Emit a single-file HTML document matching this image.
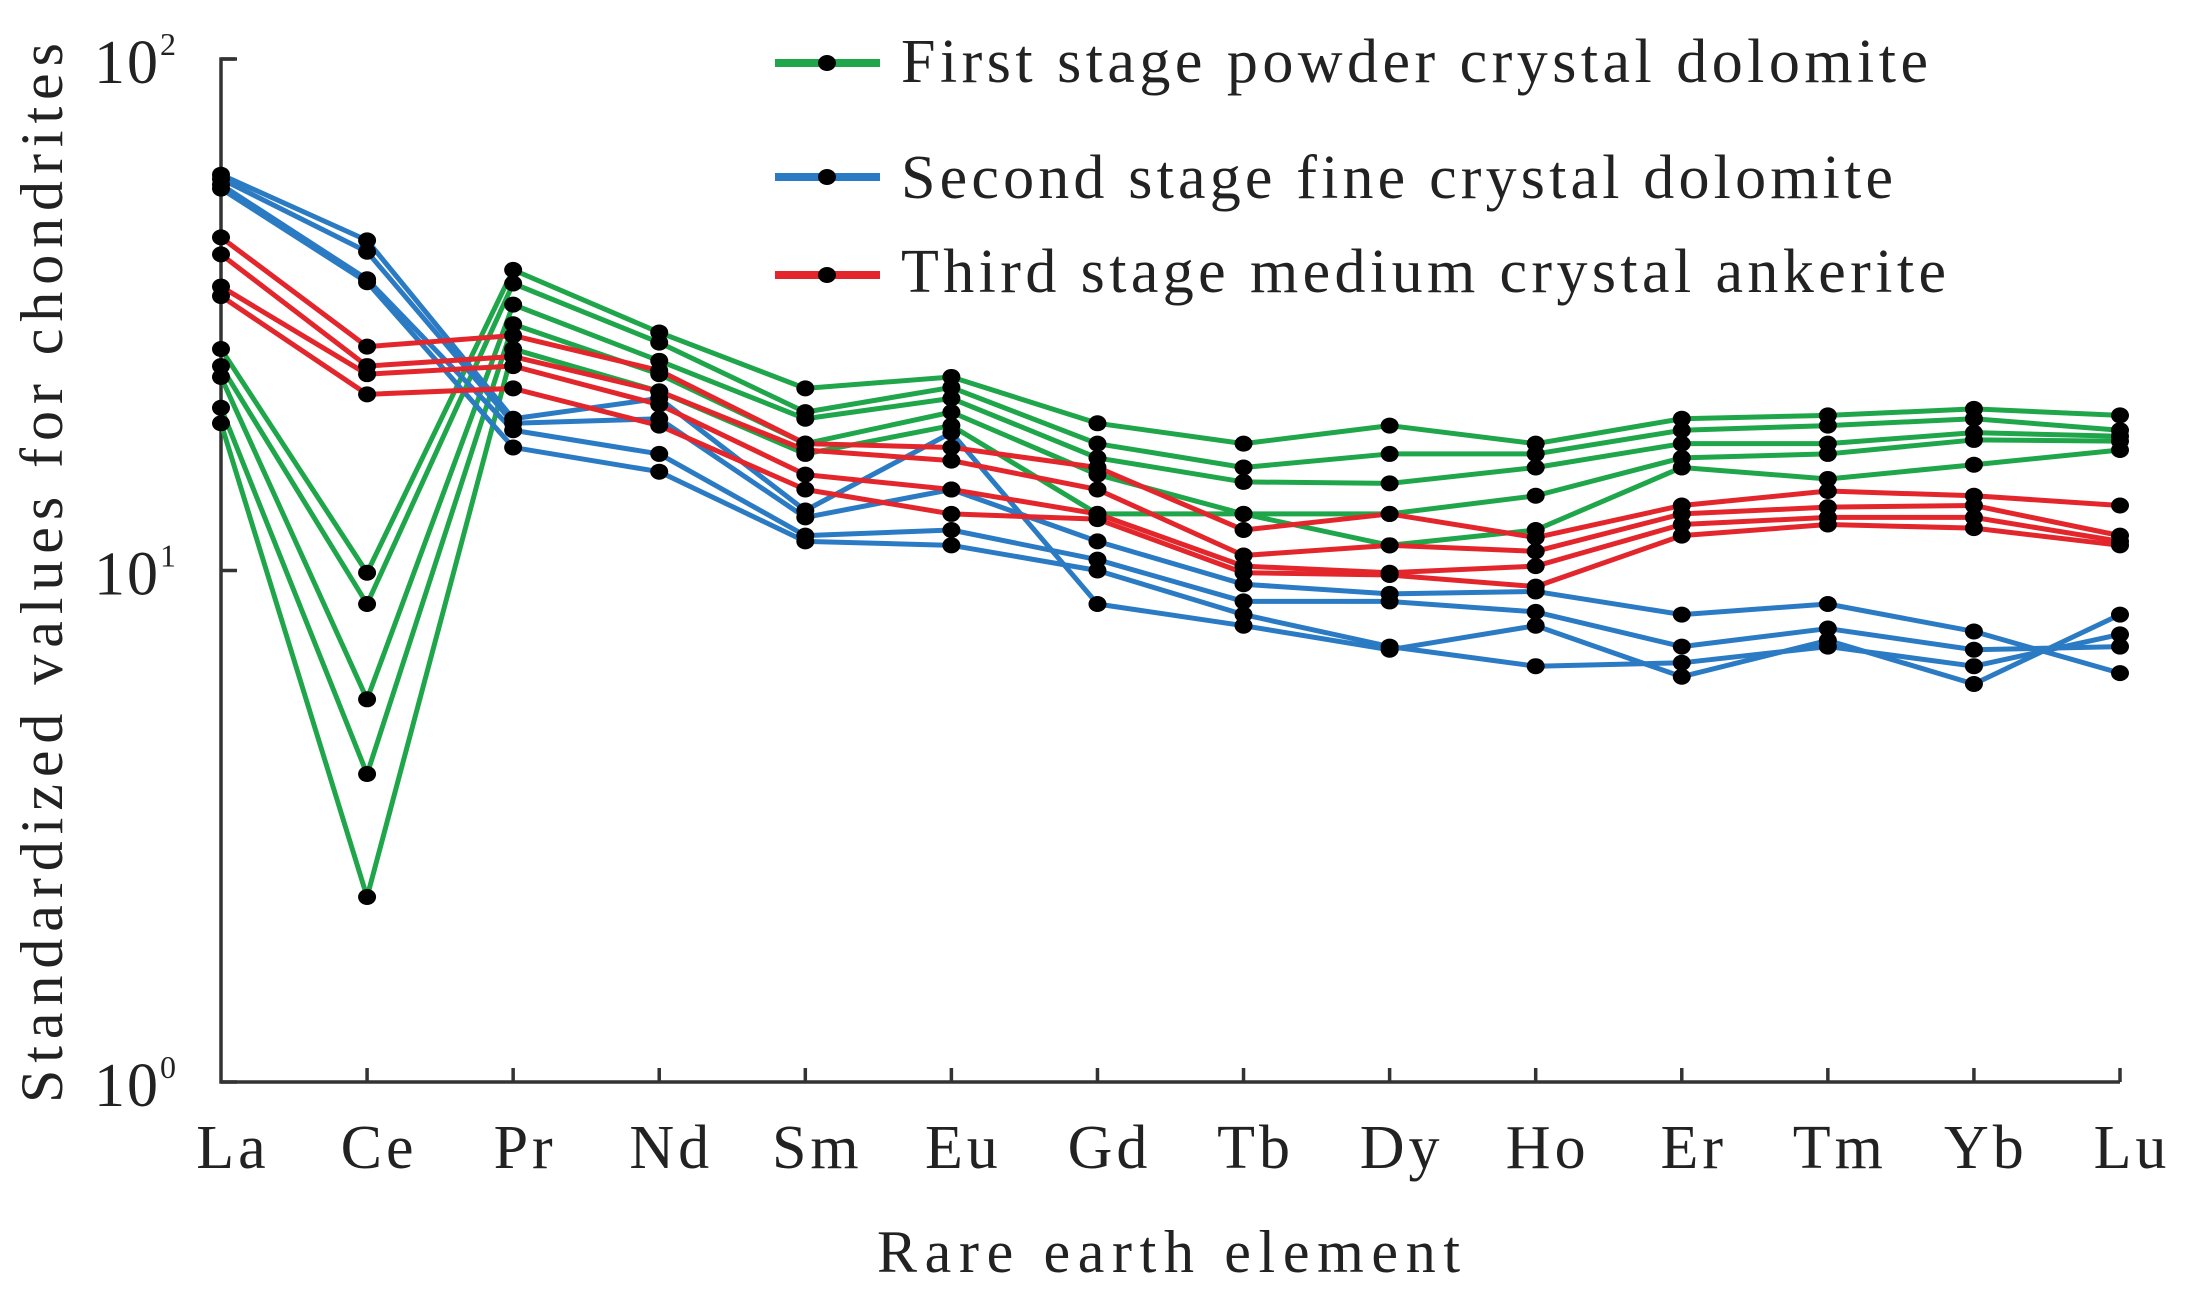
<!DOCTYPE html>
<html><head><meta charset="utf-8"><style>
html,body{margin:0;padding:0;background:#fff;}
svg{display:block;}
text{font-family:"Liberation Serif",serif;fill:#222;}
</style></head><body>
<svg id="chart" width="2190" height="1306" viewBox="0 0 2190 1306" xmlns="http://www.w3.org/2000/svg">
<g id="axes"></g>
<g id="series"></g>
<g id="legend"></g>
</svg>
<script>
const categories = ["La","Ce","Pr","Nd","Sm","Eu","Gd","Tb","Dy","Ho","Er","Tm","Yb","Lu"];
const yTickLabels = ["2","1","0"];
const yTickValues = [100,10,1];
const green1 = [27.1,9.9,38.7,29.2,22.7,23.9,19.4,17.7,19.2,17.7,19.8,20.1,20.7,20.1];
const green2 = [25.1,8.6,36.4,27.9,20.4,22.8,17.7,15.9,16.9,16.9,18.8,19.2,19.8,18.8];
const green3 = [23.9,5.6,33.1,25.7,19.8,21.7,16.6,14.9,14.8,15.9,17.7,17.7,18.6,18.3];
const green4 = [20.8,4.0,30.3,24.2,17.7,20.4,15.4,12.9,12.9,14.0,16.6,16.9,18.0,17.9];
const green5 = [19.4,2.3,27.1,22.4,16.9,19.2,12.9,12.9,11.2,12.0,15.9,15.1,16.1,17.2];
const blue1 = [59.4,44.2,19.8,21.7,13.1,18.6,8.6,7.8,7.0,7.8,6.2,7.3,6.0,8.2];
const blue2 = [58.3,42.0,19.4,19.8,12.7,14.4,11.4,9.4,9.0,9.1,8.2,8.6,7.6,6.3];
const blue3 = [56.8,37.1,18.8,16.9,11.7,12.0,10.5,8.7,8.7,8.3,7.1,7.7,7.0,7.1];
const blue4 = [55.8,36.6,17.4,15.6,11.4,11.2,10.0,8.2,7.1,6.5,6.6,7.1,6.5,7.5];
const red1 = [44.8,27.4,28.8,24.6,17.7,17.4,15.9,12.0,12.9,11.6,13.4,14.3,14.0,13.4];
const red2 = [41.5,25.1,26.2,22.4,17.2,16.4,14.4,10.7,11.2,10.9,12.9,13.3,13.4,11.7];
const red3 = [35.9,24.2,25.1,21.1,15.4,14.4,12.9,10.2,9.9,10.2,12.3,12.7,12.7,11.4];
const red4 = [34.4,22.1,22.7,19.2,14.4,12.9,12.6,9.9,9.8,9.3,11.7,12.3,12.1,11.2];
const legendLabels = ["First stage powder crystal dolomite","Second stage fine crystal dolomite","Third stage medium crystal ankerite"];

const NS="http://www.w3.org/2000/svg";
const FF='"Liberation Serif", serif';
const X0=221, X1=2120, YTOP=59, YBOT=1082;
const xScale=i=>X0+(X1-X0)*i/(categories.length-1);
const yScale=v=>YBOT-(Math.log10(v)-0)/(2-0)*(YBOT-YTOP);
function mk(tag,attrs,parent){const e=document.createElementNS(NS,tag);for(const k in attrs)e.setAttribute(k,attrs[k]);parent.appendChild(e);return e;}
const axes=document.getElementById('axes');
const ser=document.getElementById('series');
const leg=document.getElementById('legend');

let el=mk('path',{d:`M${X0+14} ${YTOP} H${X0} V${YBOT} H${X1}`,fill:'none',stroke:'#333','stroke-width':3.5},axes);


yTickValues.forEach((v,i)=>{
  const y=yScale(v);
  let t=mk('line',{x1:X0,x2:X0+16,y1:y,y2:y,stroke:'#333','stroke-width':3.5},axes);
  
  
  let lb=mk('text',{x:178,y:y+24,'font-size':62,'font-family':FF,'text-anchor':'end','letter-spacing':2},axes);
  
  
  lb.textContent='10';
  let sp=mk('tspan',{dy:-28,'font-size':32},lb);
  sp.textContent=yTickLabels[i];
});
categories.forEach((c,i)=>{
  const x=xScale(i);
  if(i>0){let t=mk('line',{x1:x,x2:x,y1:YBOT,y2:YBOT-14,stroke:'#333','stroke-width':3.5},axes);
  
  }
  let lb=mk('text',{x:x+12,y:1168,'font-size':62,'font-family':FF,'text-anchor':'middle','letter-spacing':4},axes);
  
  
  lb.textContent=c;
});
let yt=mk('text',{x:0,y:0,'font-size':60,'font-family':FF,'text-anchor':'middle',textLength:1060,lengthAdjust:'spacing',transform:'translate(62,573) rotate(-90)'},axes);


yt.textContent='Standardized values for chondrites';
let xt=mk('text',{x:877,y:1272,'font-size':60,'font-family':FF,textLength:583,lengthAdjust:'spacing'},axes);


xt.textContent='Rare earth element';

const groups=[
 {color:'#1fa64a',data:[green1,green2,green3,green4,green5],name:'green'},
 {color:'#2a7bc4',data:[blue1,blue2,blue3,blue4],name:'blue'},
 {color:'#e3262c',data:[red1,red2,red3,red4],name:'red'}];
groups.forEach(g=>g.data.forEach((arr,k)=>{
  const pts=arr.map((v,i)=>xScale(i)+','+yScale(v)).join(' ');
  let pl=mk('polyline',{points:pts,fill:'none',stroke:g.color,'stroke-width':5,'stroke-linejoin':'round'},ser);
  
  
}));
groups.forEach(g=>g.data.forEach((arr,k)=>{
  arr.forEach((v,i)=>{
    let d=mk('ellipse',{cx:xScale(i),cy:yScale(v),rx:9,ry:8,fill:'#000'},ser);
    
    
  });
}));
const legY=[63,177,275], legBase=[82,198,292], legLen=[1027,992,1045];
groups.forEach((g,i)=>{
  let ln=mk('line',{x1:775,x2:880,y1:legY[i],y2:legY[i],stroke:g.color,'stroke-width':8},leg);
  
  
  let dt=mk('ellipse',{cx:827,cy:legY[i],rx:9,ry:8,fill:'#000'},leg);
  
  
  let tx=mk('text',{x:901,y:legBase[i],'font-size':62,'font-family':FF,textLength:legLen[i],lengthAdjust:'spacing'},leg);
  
  
  tx.textContent=legendLabels[i];
});
</script>
</body></html>
